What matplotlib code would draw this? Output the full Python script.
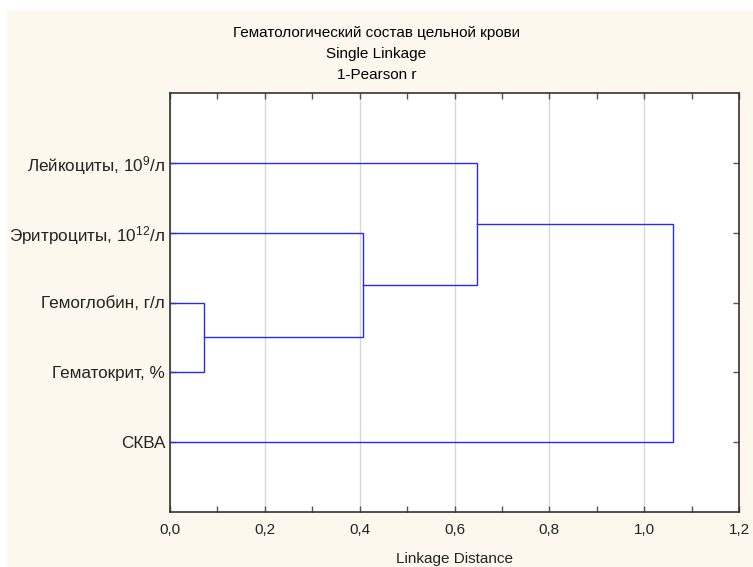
import matplotlib
matplotlib.use("Agg")
import matplotlib.pyplot as plt
from matplotlib.patches import Rectangle
from matplotlib.ticker import MultipleLocator, FuncFormatter

plt.rcParams['font.family'] = ['Liberation Sans', 'DejaVu Sans']
plt.rcParams['mathtext.fontset'] = 'custom'
plt.rcParams['mathtext.rm'] = 'Liberation Sans'
plt.rcParams['mathtext.it'] = 'Liberation Sans'

# листья сверху вниз
leaves = ['Лейкоциты, 10$^{9}$/л', 'Эритроциты, 10$^{12}$/л', 'Гемоглобин, г/л',
          'Гематокрит, %', 'СКВА']
# шаги объединения: (кластер a, кластер b, расстояние); кластеры 5.. = новые
merge_a = [2, 1, 0, 7]
merge_b = [3, 5, 6, 4]
merge_d = [0.072, 0.406, 0.648, 1.061]

line_col = '#2a2af5'

fig = plt.figure(figsize=(7.53, 5.67), dpi=100, facecolor='white')
fig.patches.append(Rectangle((7/753, 0), 1, 1 - 10/567, transform=fig.transFigure,
                             facecolor='#fdf8ee', edgecolor='none', zorder=-10))
ax = fig.add_axes([170/753, 1 - 512/567, 569/753, 419/567])
ax.set_facecolor('white')

ypos = {i: i + 1 for i in range(len(leaves))}
xpos = {i: 0.0 for i in range(len(leaves))}
for k, (a, b, d) in enumerate(zip(merge_a, merge_b, merge_d)):
    ax.plot([xpos[a], d, d, xpos[b]], [ypos[a], ypos[a], ypos[b], ypos[b]],
            color=line_col, lw=1.0, solid_joinstyle='miter')
    new = len(leaves) + k
    ypos[new] = (ypos[a] + ypos[b]) / 2
    xpos[new] = d

ax.set_xlim(0, 1.2)
ax.set_ylim(6, 0)
ax.set_yticks(range(1, len(leaves) + 1))
ax.set_yticklabels(leaves, fontsize=12.3, color='#222222')
ax.xaxis.set_major_locator(MultipleLocator(0.2))
ax.xaxis.set_minor_locator(MultipleLocator(0.1))
ax.xaxis.set_major_formatter(FuncFormatter(lambda v, p: f'{v:.1f}'.replace('.', ',')))
ax.tick_params(axis='x', labelsize=11, pad=8, labelcolor='#222222')
ax.tick_params(which='both', direction='in', top=True, right=True, length=4,
               width=1, color='#555555')
ax.grid(axis='x', which='major', color='#d8d8d8', lw=1)
ax.set_axisbelow(True)
for s in ax.spines.values():
    s.set_color('#333333')
    s.set_linewidth(1.2)

ax.set_xlabel('Linkage Distance', fontsize=11, labelpad=11, color='#222222')
fig.text(0.5, 1 - 33/567, 'Гематологический состав цельной крови', ha='center', va='center', fontsize=11)
fig.text(0.5, 1 - 54/567, 'Single Linkage', ha='center', va='center', fontsize=11)
fig.text(0.5, 1 - 75/567, '1-Pearson r', ha='center', va='center', fontsize=11)

fig.savefig('out.png', dpi=100, facecolor=fig.get_facecolor())
